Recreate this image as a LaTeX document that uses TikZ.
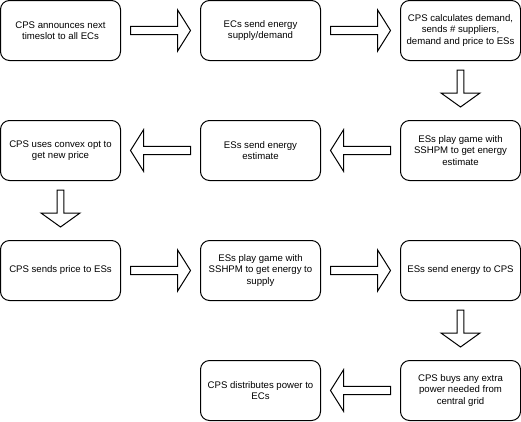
\documentclass[tikz,border=0pt]{standalone}
\usepackage{fontspec}
\setmainfont{Liberation Sans}
\usetikzlibrary{calc}
\tikzset{
  box/.style={draw=black, line width=1pt, rounded corners=9pt, minimum width=120pt, minimum height=60pt,
    inner sep=0pt, align=center, font=\fontsize{9.6}{11.5}\selectfont, fill=white},
  blk/.style={draw=black, line width=1pt, fill=white, line join=miter},
}
% #1 from node.anchor, #2 to node.anchor, #3 start gap, #4 end gap, #5 head length, #6 shaft half width, #7 head half width
\newcommand\blockarrow[7]{%
  \coordinate (bs) at ($(#1)!#3!(#2)$);
  \coordinate (be) at ($(#2)!#4!(#1)$);
  \coordinate (bb) at ($(be)!#5!(bs)$);
  \draw[blk] ($(bs)!#6!90:(be)$) -- ($(bb)!#6!-90:(bs)$) -- ($(bb)!#7!-90:(bs)$) -- (be)
    -- ($(bb)!#7!90:(bs)$) -- ($(bb)!#6!90:(bs)$) -- ($(bs)!#6!-90:(be)$) -- cycle;
}
\newcommand\harr[2]{\blockarrow{#1}{#2}{9.5pt}{9.5pt}{13pt}{4.2pt}{20.7pt}}
\newcommand\varr[2]{\blockarrow{#1}{#2}{9pt}{13pt}{14pt}{3.4pt}{19.5pt}}
\begin{document}
\begin{tikzpicture}[x=1pt,y=-1pt]
\useasboundingbox (0,0) rectangle (521,421);
\node[box] (a1) at (60.5,30.5) {CPS announces next\\timeslot to all ECs};
\node[box] (a2) at (260.5,30.5) {ECs send energy\\supply/demand};
\node[box] (a3) at (460.5,30.5) {CPS calculates demand,\\sends \# suppliers,\\demand and price to ESs};
\node[box] (b3) at (460.5,150.5) {ESs play game with\\SSHPM to get energy\\estimate};
\node[box] (b2) at (260.5,150.5) {ESs send energy\\estimate};
\node[box] (b1) at (60.5,150.5) {CPS uses convex opt to\\get new price};
\node[box] (c1) at (60.5,270.5) {CPS sends price to ESs};
\node[box] (c2) at (260.5,270.5) {ESs play game with\\SSHPM to get energy to\\supply};
\node[box] (c3) at (460.5,270.5) {ESs send energy to CPS};
\node[box] (d3) at (460.5,390.5) {CPS buys any extra\\power needed from\\central grid};
\node[box] (d2) at (260.5,390.5) {CPS distributes power to\\ECs};
\harr{a1.east}{a2.west}
\harr{a2.east}{a3.west}
\varr{a3.south}{b3.north}
\harr{b3.west}{b2.east}
\harr{b2.west}{b1.east}
\varr{b1.south}{c1.north}
\harr{c1.east}{c2.west}
\harr{c2.east}{c3.west}
\varr{c3.south}{d3.north}
\harr{d3.west}{d2.east}
\end{tikzpicture}
\end{document}
